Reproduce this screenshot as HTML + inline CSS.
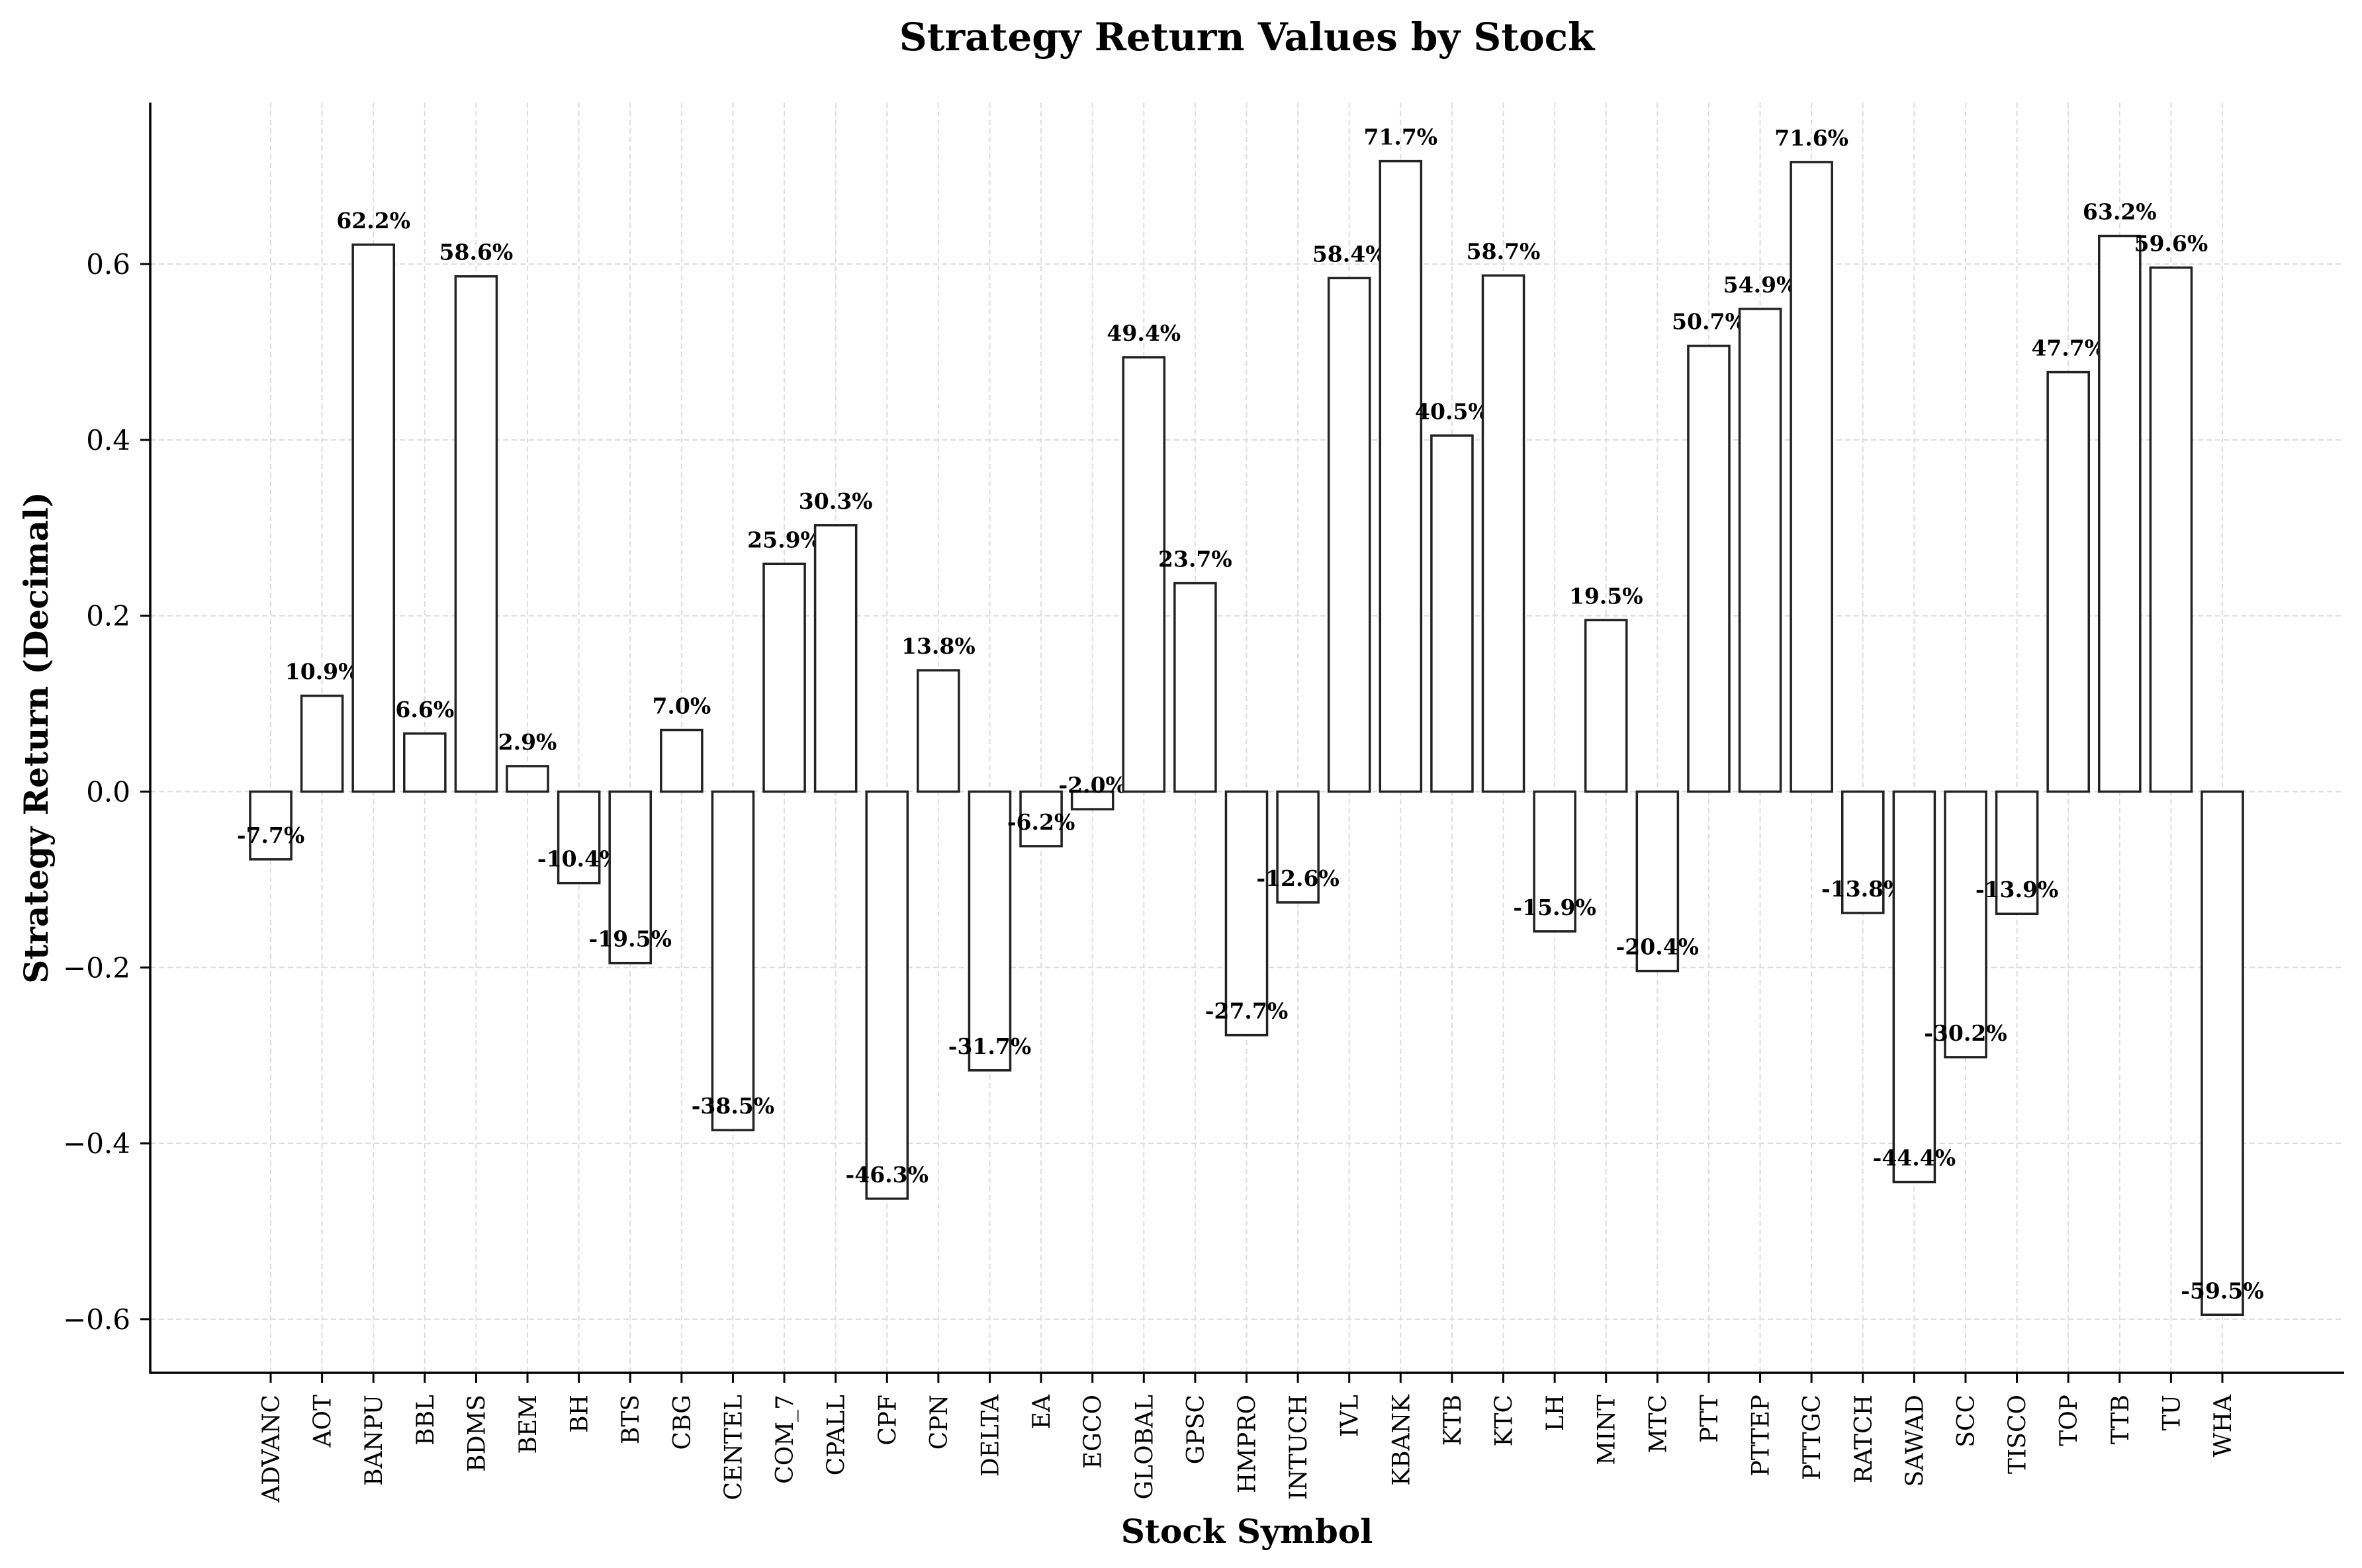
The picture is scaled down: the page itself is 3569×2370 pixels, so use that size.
<!DOCTYPE html>
<html><head><meta charset="utf-8">
<style>
html,body{margin:0;padding:0;background:#fff;}
svg{display:block;font-family:"DejaVu Serif","Liberation Serif",serif;}
</style></head>
<body>
<svg id="chart" width="3569" height="2370" viewBox="0 0 3569 2370" xmlns="http://www.w3.org/2000/svg">
<rect width="3569" height="2370" fill="#fff"/>
<text x="1884" y="76" text-anchor="middle" font-size="58" font-weight="bold">Strategy Return Values by Stock</text>
<text transform="translate(72,1115) rotate(-90)" text-anchor="middle" font-size="50" font-weight="bold">Strategy Return (Decimal)</text>
<text x="1884" y="2332" text-anchor="middle" font-size="50" font-weight="bold">Stock Symbol</text>
<g id="grid"></g>
<g id="bars"></g>
<g id="axes"></g>
</svg>
<script>
const categories = ["ADVANC","AOT","BANPU","BBL","BDMS","BEM","BH","BTS","CBG","CENTEL","COM_7","CPALL","CPF","CPN","DELTA","EA","EGCO","GLOBAL","GPSC","HMPRO","INTUCH","IVL","KBANK","KTB","KTC","LH","MINT","MTC","PTT","PTTEP","PTTGC","RATCH","SAWAD","SCC","TISCO","TOP","TTB","TU","WHA"];
const returns = [-0.077,0.109,0.622,0.066,0.586,0.029,-0.104,-0.195,0.070,-0.385,0.259,0.303,-0.463,0.138,-0.317,-0.062,-0.020,0.494,0.237,-0.277,-0.126,0.584,0.717,0.405,0.587,-0.159,0.195,-0.204,0.507,0.549,0.716,-0.138,-0.444,-0.302,-0.139,0.477,0.632,0.596,-0.595];
const yTicks = [-0.6,-0.4,-0.2,0.0,0.2,0.4,0.6];
const yTickLabels = ["\u22120.6","\u22120.4","\u22120.2","0.0","0.2","0.4","0.6"];

const NS="http://www.w3.org/2000/svg";
const L=227,R=3542,T=155,B=2075;
const x0=409, step=(3358-409)/38;
function xPos(i){return x0+step*i;}
function yPos(v){return 1196.5 - v*1329;}
function mk(tag,attrs,parent){const e=document.createElementNS(NS,tag);for(const k in attrs)e.setAttribute(k,attrs[k]);parent.appendChild(e);return e;}
const grid=document.getElementById('grid'),bars=document.getElementById('bars'),axes=document.getElementById('axes');

yTicks.forEach((v,i)=>{
  const y=yPos(v);
  const g=mk('line',{x1:L,x2:R,y1:y,y2:y,stroke:'#ddd','stroke-width':2,'stroke-dasharray':'8,5'},grid);
  
  
  const t=mk('line',{x1:212,x2:L,y1:y,y2:y,stroke:'#000','stroke-width':3},axes);
  
  
  const lb=mk('text',{x:197,y:y+15,'text-anchor':'end','font-size':42},axes);
  lb.textContent=yTickLabels[i];
  
  
});

categories.forEach((c,i)=>{
  const x=xPos(i);
  const g=mk('line',{x1:x,x2:x,y1:T,y2:B,stroke:'#ddd','stroke-width':2,'stroke-dasharray':'8,5'},grid);
  
  
  const v=returns[i];
  const w=step*0.8;
  const y1=yPos(Math.max(v,0)), y2=yPos(Math.min(v,0));
  const r=mk('rect',{x:x-w/2,y:y1,width:w,height:Math.max(y2-y1,0.5),fill:'#fff',stroke:'#222','stroke-width':3.5},bars);
  
  
  const vl=mk('text',{x:x,y:yPos(v)-25,'text-anchor':'middle','font-size':33,'font-weight':'bold'},bars);
  vl.textContent=(v*100).toFixed(1)+'%';
  
  
  const t=mk('line',{x1:x,x2:x,y1:B,y2:B+15,stroke:'#000','stroke-width':3},axes);
  
  
  const lb=mk('text',{transform:`translate(${x+13},2108) rotate(-90)`,'text-anchor':'end','font-size':36},axes);
  lb.textContent=c;
  
  
});

const ls=mk('line',{x1:L,x2:L,y1:T,y2:B+1.5,stroke:'#000','stroke-width':3.5},axes);


const bs=mk('line',{x1:L-1.5,x2:R,y1:B,y2:B,stroke:'#000','stroke-width':3.5},axes);


</script>
</body></html>
